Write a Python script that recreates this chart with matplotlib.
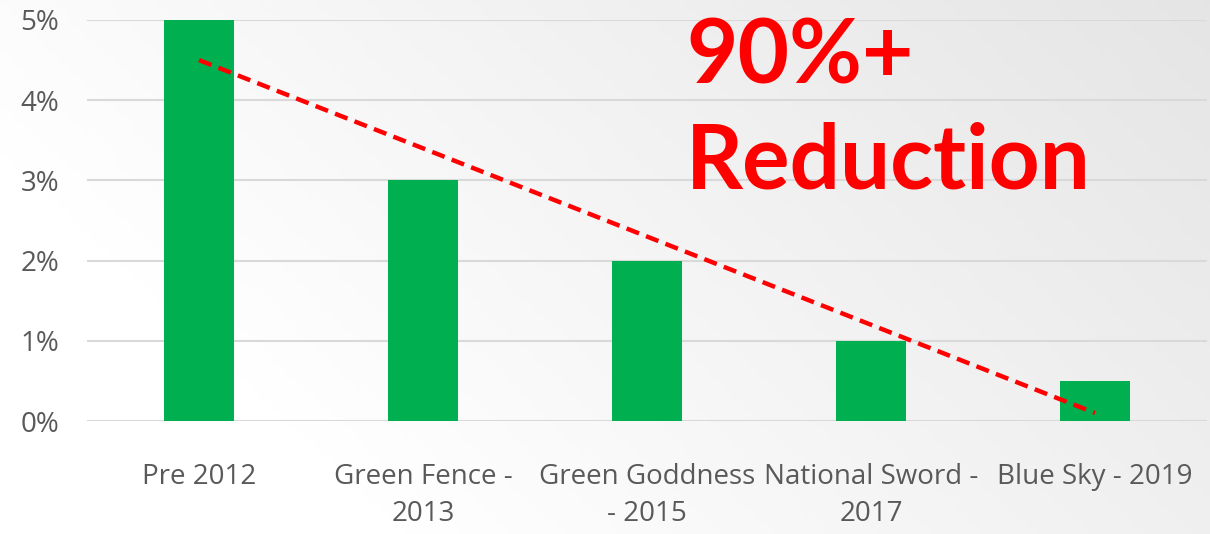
import matplotlib.pyplot as plt
import numpy as np

categories = ['Pre 2012', 'Green Fence -\n2013', 'Green Goddness\n- 2015',
              'National Sword -\n2017', 'Blue Sky - 2019']
values = [5, 3, 2, 1, 0.5]
# linear trendline end points (percent)
trend_values = [4.5, 0.1]

fig = plt.figure(figsize=(12.1, 5.34), dpi=100)

# soft gradient background, white bottom-left to light grey top-right
bg = fig.add_axes([0, 0, 1, 1], zorder=0)
gx, gy = np.meshgrid(np.linspace(0, 1, 200), np.linspace(0, 1, 100))
shade = 1.0 - 0.12 * np.clip(0.75 * gx + 0.35 * (1 - gy) - 0.25, 0, 1)
bg.imshow(np.dstack([shade, shade, shade]), aspect='auto', extent=[0, 1, 0, 1])
bg.axis('off')

ax = fig.add_axes([87 / 1210, 113 / 534, 1120 / 1210, 401 / 534], zorder=1)
ax.patch.set_alpha(0)

x = np.arange(len(categories))
ax.bar(x, values, width=0.3125, color='#00B050', zorder=2)
ax.plot([x[0], x[-1]], trend_values, color='#FF0000', lw=3.2,
        dashes=(3, 1.7), zorder=3)

ax.set_xlim(-0.5, len(categories) - 0.5)
ax.set_ylim(0, 5)
ax.set_yticks([0, 1, 2, 3, 4, 5])
ax.set_yticklabels(['0%', '1%', '2%', '3%', '4%', '5%'])
ax.set_xticks(x)
ax.set_xticklabels(categories, linespacing=1.45)
ax.tick_params(length=0, labelsize=20, labelcolor='#595959')
ax.tick_params(axis='x', pad=30)
ax.tick_params(axis='y', pad=20)
for t in ax.get_xticklabels() + ax.get_yticklabels():
    t.set_fontfamily('Open Sans')
ax.grid(axis='y', color='#D9D9D9', lw=1.5, zorder=0)
ax.set_axisbelow(True)
for s in ax.spines.values():
    s.set_visible(False)

fig.text(686 / 1210, 1 - 58 / 534, '90%+', color='#FF0000', fontsize=64,
         fontweight='bold', family='Lato', va='center', ha='left')
fig.text(686 / 1210, 1 - 162 / 534, 'Reduction', color='#FF0000', fontsize=64,
         fontweight='bold', family='Lato', va='center', ha='left')

fig.savefig('out.png', dpi=100)
